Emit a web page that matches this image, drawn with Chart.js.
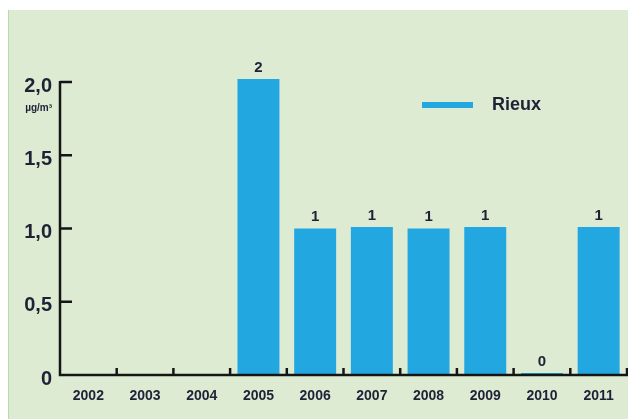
<!DOCTYPE html>
<html>
<head>
<meta charset="utf-8">
<script src="https://cdn.jsdelivr.net/npm/chart.js@4/dist/chart.umd.min.js"></script>
<style>
html,body{margin:0;padding:0;background:#ffffff;overflow:hidden;}
#wrap{position:absolute;left:0;top:0;width:628px;height:419px;}
</style>
</head>
<body>
<div id="wrap"><canvas id="c" width="628" height="419"></canvas></div>
<script>
const years = ['2002','2003','2004','2005','2006','2007','2008','2009','2010','2011'];
const rieux = [null, null, null, 2.02, 1.0, 1.01, 1.0, 1.01, 0, 1.01];
const valueLabels = [null, null, null, '2', '1', '1', '1', '1', '0', '1'];
const yTicks = [0, 0.5, 1.0, 1.5, 2.0];
const seriesName = 'Rieux';
const unitLabel = 'µg/m³';

const BAR = '#22a7e0';
const BG = '#dcebd2';
const INK = '#1f2136';
const FONT = '"Liberation Sans Narrow", "Liberation Sans", Arial, sans-serif';

const decor = {
  id: 'decor',
  beforeDraw(chart) {
    const ctx = chart.ctx;
    ctx.save();
    ctx.fillStyle = '#ffffff';
    ctx.fillRect(0, 0, chart.width, chart.height);
    ctx.fillStyle = BG;
    ctx.fillRect(8, 10, chart.width - 8, chart.height - 10);
    ctx.fillStyle = '#b9dca6';
    ctx.fillRect(8, 10, 1, chart.height - 10);
    ctx.restore();
  },
  afterDatasetsDraw(chart) {
    const ctx = chart.ctx;
    const x = chart.scales.x, y = chart.scales.y;
    const area = chart.chartArea;
    const y0 = y.getPixelForValue(0);
    const yTop = y.getPixelForValue(2);
    ctx.save();
    ctx.strokeStyle = '#151515';
    ctx.lineWidth = 2.5;
    ctx.beginPath();
    ctx.moveTo(area.left, yTop - 1);
    ctx.lineTo(area.left, y0);
    ctx.lineTo(chart.width + 2, y0);
    ctx.stroke();
    // y ticks pointing inward
    yTicks.forEach(v => {
      if (v === 0) return;
      const py = y.getPixelForValue(v);
      ctx.beginPath();
      ctx.moveTo(area.left, py);
      ctx.lineTo(area.left + 12, py);
      ctx.stroke();
    });
    // x ticks at category boundaries, pointing up
    for (let i = 0; i < years.length; i++) {
      const px = (x.getPixelForValue(i) + (i + 1 < years.length ? x.getPixelForValue(i + 1) : x.getPixelForValue(i) * 2 - x.getPixelForValue(i - 1))) / 2;
      ctx.beginPath();
      ctx.moveTo(px, y0);
      ctx.lineTo(px, y0 - 7);
      ctx.stroke();
    }
    // value labels
    ctx.fillStyle = INK;
    ctx.font = 'bold 15px ' + FONT;
    ctx.textAlign = 'center';
    ctx.textBaseline = 'bottom';
    const meta = chart.getDatasetMeta(0);
    meta.data.forEach((bar, i) => {
      if (valueLabels[i] == null) return;
      ctx.fillText(valueLabels[i], bar.x, Math.min(bar.y, y0) - 4);
    });
    // unit label
    ctx.font = 'bold 10px ' + FONT;
    ctx.textAlign = 'right';
    ctx.textBaseline = 'middle';
    ctx.fillText(unitLabel, 52, 108);
    // legend
    ctx.fillStyle = BAR;
    ctx.fillRect(422, 102, 51, 6);
    ctx.fillStyle = INK;
    ctx.font = 'bold 18px ' + FONT;
    ctx.textAlign = 'left';
    ctx.textBaseline = 'middle';
    ctx.fillText(seriesName, 492, 105);
    ctx.restore();
  }
};

new Chart(document.getElementById('c'), {
  type: 'bar',
  data: {
    labels: years,
    datasets: [{
      label: seriesName,
      data: rieux,
      backgroundColor: BAR,
      borderWidth: 0,
      barPercentage: 0.74,
      categoryPercentage: 1.0,
      minBarLength: 2,
      clip: false
    }]
  },
  options: {
    responsive: false,
    animation: false,
    devicePixelRatio: 1,
    layout: { padding: { left: 8, top: 82, right: 1, bottom: 0 } },
    plugins: { legend: { display: false }, tooltip: { enabled: false } },
    scales: {
      x: {
        grid: { display: false, drawTicks: false },
        border: { display: false },
        ticks: {
          color: INK,
          font: { family: FONT, size: 14, weight: 'bold' },
          padding: 13,
          maxRotation: 0,
          autoSkip: false
        },
        afterFit(s) { s.height = 44; }
      },
      y: {
        min: 0,
        max: 2,
        grid: { display: false, drawTicks: false },
        border: { display: false },
        afterBuildTicks(s) { s.ticks = yTicks.map(v => ({ value: v })); },
        ticks: {
          color: INK,
          font: { family: FONT, size: 20, weight: 'bold' },
          padding: 8,
          labelOffset: 4,
          callback(v) { return v === 0 ? '0' : Number(v).toFixed(1).replace('.', ','); }
        },
        afterFit(s) { s.width = 52; }
      }
    }
  },
  plugins: [decor]
});
</script>
</body>
</html>
